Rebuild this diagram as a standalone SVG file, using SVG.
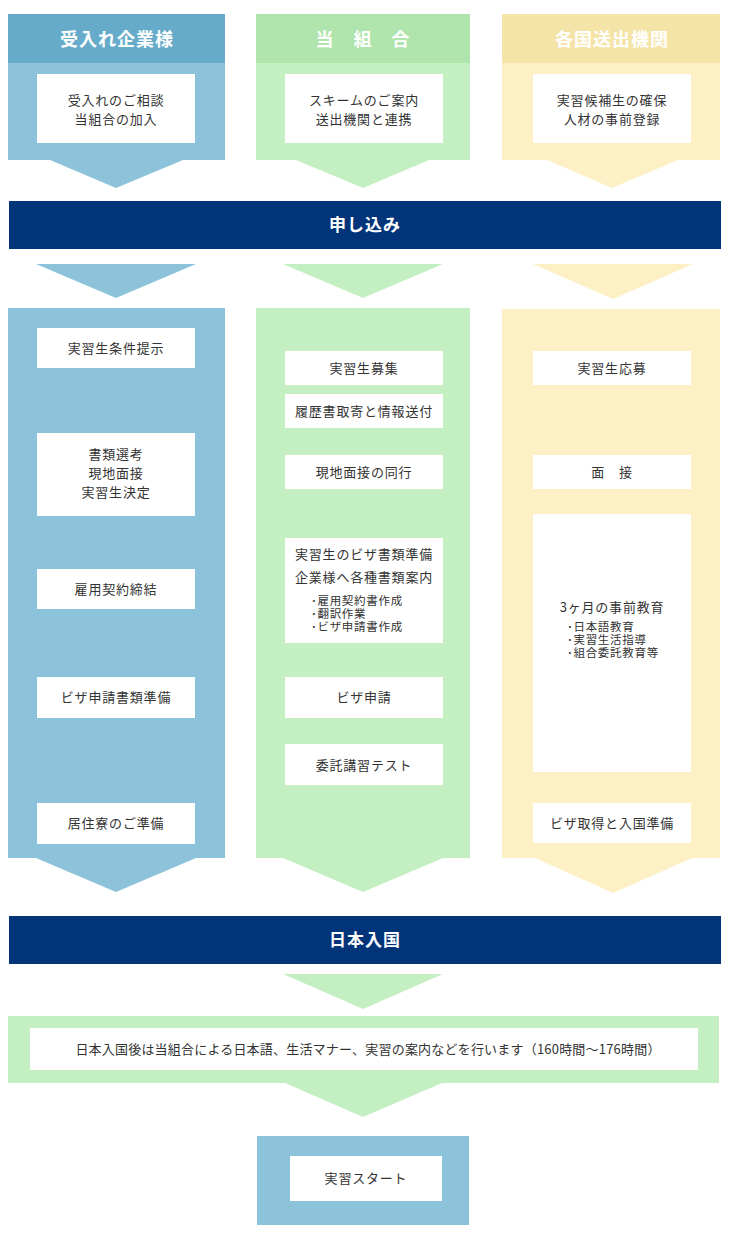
<svg xmlns="http://www.w3.org/2000/svg" width="730" height="1248" viewBox="0 0 730 1248">
<style>
.t{font-family:"Noto Sans CJK JP","Liberation Sans",sans-serif;font-size:13px;fill:#333;text-anchor:middle;letter-spacing:0.8px}
.s{font-family:"Noto Sans CJK JP","Liberation Sans",sans-serif;font-size:11.5px;fill:#333;letter-spacing:0.7px}
.h{font-family:"Noto Sans CJK JP","Liberation Sans",sans-serif;font-size:18px;font-weight:bold;fill:#fff;text-anchor:middle;letter-spacing:1px}
.box{fill:#fff}
.b1h{fill:#66acca}.b1{fill:#8dc3da}
.b2h{fill:#b0e4ad}.b2{fill:#c4efc3}
.b3h{fill:#f5e4a8}.b3{fill:#fcf0c4}
.navy{fill:#02347a}
</style>
<rect width="730" height="1248" fill="#fff"/>

<g id="col1-top">
<rect class="b1h" x="8" y="14" width="217" height="50"/>
<polygon class="b1" points="8,63 225,63 225,160 183,160 116,188 50,160 8,160"/>
<text class="h" x="117" y="46">受入れ企業様</text>
<rect class="box" x="37" y="74" width="158" height="69"/>
<text class="t" x="116" y="105">受入れのご相談</text>
<text class="t" x="116" y="124">当組合の加入</text>
</g>

<g id="col2-top">
<rect class="b2h" x="256" y="14" width="214" height="50"/>
<polygon class="b2" points="256,63 470,63 470,160 429,160 363,188 296,160 256,160"/>
<text class="h" x="363" y="46">当　組　合</text>
<rect class="box" x="285" y="74" width="158" height="69"/>
<text class="t" x="364" y="105">スキームのご案内</text>
<text class="t" x="364" y="124">送出機関と連携</text>
</g>

<g id="col3-top">
<rect class="b3h" x="502" y="14" width="218" height="50"/>
<polygon class="b3" points="502,63 720,63 720,160 678,160 612,188 547,160 502,160"/>
<text class="h" x="612" y="46">各国送出機関</text>
<rect class="box" x="533" y="74" width="158" height="69"/>
<text class="t" x="612" y="105">実習候補生の確保</text>
<text class="t" x="612" y="124">人材の事前登録</text>
</g>

<g id="moushikomi">
<rect class="navy" x="9" y="201" width="712" height="48"/>
<text class="h" x="365" y="231" style="font-size:17px">申し込み</text>
</g>

<g id="connectors">
<polygon class="b1" points="36,264 196,264 116,298"/>
<polygon class="b2" points="283,264 443,264 363,298"/>
<polygon class="b3" points="533,264 693,264 613,299"/>
<polygon class="b2" points="283,974 443,974 363,1009"/>
</g>

<g id="col1-main">
<polygon class="b1" points="8,308 225,308 225,858 196,858 116,892 36,858 8,858"/>
<rect class="box" x="37" y="328" width="158" height="40"/>
<text class="t" x="116" y="353">実習生条件提示</text>
<rect class="box" x="37" y="433" width="158" height="83"/>
<text class="t" x="116" y="459">書類選考</text>
<text class="t" x="116" y="478">現地面接</text>
<text class="t" x="116" y="497">実習生決定</text>
<rect class="box" x="37" y="569" width="158" height="40"/>
<text class="t" x="116" y="594">雇用契約締結</text>
<rect class="box" x="37" y="677" width="158" height="41"/>
<text class="t" x="116" y="702">ビザ申請書類準備</text>
<rect class="box" x="37" y="803" width="158" height="41"/>
<text class="t" x="116" y="828">居住寮のご準備</text>
</g>

<g id="col2-main">
<polygon class="b2" points="256,308 470,308 470,858 443,858 363,892 283,858 256,858"/>
<rect class="box" x="285" y="351" width="158" height="34"/>
<text class="t" x="364" y="373">実習生募集</text>
<rect class="box" x="285" y="394" width="158" height="34"/>
<text class="t" x="364" y="416">履歴書取寄と情報送付</text>
<rect class="box" x="285" y="455" width="158" height="34"/>
<text class="t" x="364" y="477">現地面接の同行</text>
<rect class="box" x="285" y="538" width="158" height="105"/>
<text class="t" x="364" y="559">実習生のビザ書類準備</text>
<text class="t" x="364" y="582">企業様へ各種書類案内</text>
<text class="s" x="311" y="605"><tspan x="311" y="605">･雇用契約書作成</tspan><tspan x="311" y="618">･翻訳作業</tspan><tspan x="311" y="631">･ビザ申請書作成</tspan></text>
<rect class="box" x="285" y="677" width="158" height="41"/>
<text class="t" x="364" y="702">ビザ申請</text>
<rect class="box" x="285" y="744" width="158" height="41"/>
<text class="t" x="364" y="770">委託講習テスト</text>
</g>

<g id="col3-main">
<polygon class="b3" points="502,309 720,309 720,858 692,858 613,893 535,858 502,858"/>
<rect class="box" x="533" y="351" width="158" height="34"/>
<text class="t" x="612" y="373">実習生応募</text>
<rect class="box" x="533" y="455" width="158" height="34"/>
<text class="t" x="612" y="477">面　接</text>
<rect class="box" x="533" y="514" width="158" height="258"/>
<text class="t" x="612" y="612">3ヶ月の事前教育</text>
<text class="s" x="567" y="631"><tspan x="567" y="631">･日本語教育</tspan><tspan x="567" y="644">･実習生活指導</tspan><tspan x="567" y="657">･組合委託教育等</tspan></text>
<rect class="box" x="533" y="803" width="158" height="40"/>
<text class="t" x="612" y="828">ビザ取得と入国準備</text>
</g>

<g id="nihon-nyukoku">
<rect class="navy" x="9" y="916" width="712" height="48"/>
<text class="h" x="365" y="946" style="font-size:17px">日本入国</text>
</g>

<g id="orientation">
<polygon class="b2" points="8,1016 719,1016 719,1083 442,1083 363,1117 285,1083 8,1083"/>
<rect class="box" x="30" y="1028" width="668" height="42"/>
<text class="t" x="368" y="1054" style="letter-spacing:0.2px">日本入国後は当組合による日本語、生活マナー、実習の案内などを行います（160時間～176時間）</text>
</g>

<g id="start">
<rect class="b1" x="257" y="1136" width="212" height="89"/>
<rect class="box" x="290" y="1156" width="152" height="45"/>
<text class="t" x="366" y="1183">実習スタート</text>
</g>
</svg>
